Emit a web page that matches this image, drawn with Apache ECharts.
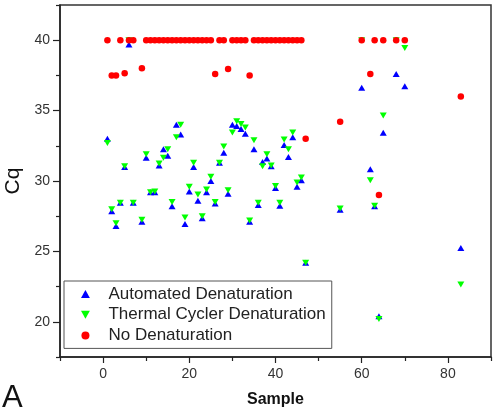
<!DOCTYPE html>
<html>
<head>
<meta charset="utf-8">
<script src="https://cdn.jsdelivr.net/npm/echarts@6/dist/echarts.min.js"></script>
<style>html,body{margin:0;padding:0;background:#fff}#c{width:493px;height:409px}</style>
</head>
<body>
<div id="c"></div>
<script>
// Automated Denaturation
var autoSamples = [1,2,3,4,5,6,7,9,10,11,12,13,14,15,16,17,18,19,20,21,22,23,24,25,26,27,28,29,30,31,32,33,34,35,36,37,38,39,40,41,42,43,44,45,46,47,55,60,62,63,64,65,68,70,83];
var autoCq = [33.0,27.85,26.8,28.45,31.0,39.7,28.45,27.1,31.65,29.2,29.2,31.1,32.25,31.8,28.2,34.0,33.3,26.95,29.25,31.0,28.6,27.35,29.2,30.0,28.4,31.3,32.0,29.1,34.0,33.9,33.7,33.35,27.1,32.25,28.3,31.35,31.6,31.05,29.5,28.25,32.55,31.7,33.1,29.6,30.05,24.2,27.95,36.63,30.83,28.2,20.4,33.43,37.6,36.73,25.25];
// Thermal Cycler Denaturation
var thermSamples = [1,2,3,4,5,6,7,9,10,11,12,13,14,15,16,17,18,19,20,21,22,23,24,25,26,27,28,29,30,31,32,33,34,35,36,37,38,39,40,41,42,43,44,45,46,47,55,60,62,63,64,65,68,70,83];
var thermCq = [32.7,28.0,27.0,28.45,31.05,40.0,28.45,27.25,31.9,29.2,29.25,31.25,31.65,32.25,28.5,33.1,34.0,27.4,29.6,31.3,29.05,27.5,29.4,30.3,28.5,31.3,32.45,29.35,33.45,34.25,34.05,33.8,27.2,32.9,28.45,31.05,31.9,31.1,29.65,28.45,32.95,32.25,33.45,29.9,30.25,24.2,28.05,40.0,30.05,28.25,20.2,34.65,40.0,39.45,22.65];
// No Denaturation
var noSamples = [1,2,3,4,5,6,7,9,10,11,12,13,14,15,16,17,18,19,20,21,22,23,24,25,26,27,28,29,30,31,32,33,34,35,36,37,38,39,40,41,42,43,44,45,46,47,55,60,62,63,64,65,68,70,83];
var noCq = [40,37.5,37.5,40,37.65,40,40,38.0,40,40,40,40,40,40,40,40,40,40,40,40,40,40,40,40,37.6,40,40,37.95,40,40,40,40,37.5,40,40,40,40,40,40,40,40,40,40,40,40,33.0,34.2,40,37.6,40,29.0,40,40,40,36.0];

var xLabelValues = [0,20,40,60,80];
var xMinorValues = [-10,10,30,50,70,90];
var yLabelValues = [20,25,30,35,40];
var yMinorValues = [17.5,22.5,27.5,32.5,37.5,42.5];
var seriesNames = ['Automated Denaturation','Thermal Cycler Denaturation','No Denaturation'];

function pairs(xs, ys){ return xs.map(function(x,i){ return [x, ys[i]]; }); }

var FONT = 'Liberation Sans, Arial, sans-serif';
var downTri = 'path://M0,0 L10,0 L5,9 Z';
var upTri = 'path://M5,0 L10,9 L0,9 Z';

var chart = echarts.init(document.getElementById('c'), null, {renderer:'canvas'});
var axisLine = {show:true, onZero:false, lineStyle:{color:'#222', width:1.5}};
chart.setOption({
  animation:false,
  backgroundColor:'#fff',
  textStyle:{fontFamily:FONT},
  grid:{left:60, right:2, top:5, bottom:52, outerBoundsMode:'none', containLabel:false, show:true, borderColor:'#333', borderWidth:1.5, backgroundColor:'transparent'},
  xAxis:[{
    type:'value', min:-10, max:90, position:'bottom',
    name:'Sample', nameLocation:'middle', nameGap:35,
    nameTextStyle:{fontFamily:FONT, fontSize:16, fontWeight:'bold', color:'#111'},
    axisLine:axisLine,
    axisTick:{show:true, length:6, customValues:xLabelValues, lineStyle:{color:'#222', width:1.2}},
    axisLabel:{customValues:xLabelValues, fontSize:14, color:'#333', margin:10, fontFamily:FONT},
    splitLine:{show:false}
  },{
    type:'value', min:-10, max:90, position:'bottom',
    axisLine:{show:false, onZero:false},
    axisTick:{show:true, length:4, customValues:xMinorValues, lineStyle:{color:'#222', width:1.2}},
    axisLabel:{show:false}, splitLine:{show:false}
  }],
  yAxis:[{
    type:'value', min:17.5, max:42.5, position:'left',
    name:'Cq', nameLocation:'middle', nameGap:21, nameRotate:90,
    nameTextStyle:{fontFamily:FONT, fontSize:21, color:'#111'},
    axisLine:axisLine,
    axisTick:{show:true, length:7, customValues:yLabelValues, lineStyle:{color:'#222', width:1.2}},
    axisLabel:{customValues:yLabelValues, fontSize:14, color:'#333', margin:10, fontFamily:FONT},
    splitLine:{show:false}
  },{
    type:'value', min:17.5, max:42.5, position:'left',
    axisLine:{show:false, onZero:false},
    axisTick:{show:true, length:4, customValues:yMinorValues, lineStyle:{color:'#222', width:1.2}},
    axisLabel:{show:false}, splitLine:{show:false}
  }],
  legend:{
    show:true, orient:'vertical', left:64, top:281,
    data:seriesNames,
    itemWidth:36, itemHeight:8, itemGap:2.7,
    padding:[4,6,4,17],
    borderColor:'#555', borderWidth:1, backgroundColor:'#fff',
    textStyle:{fontFamily:FONT, fontSize:17, color:'#222', lineHeight:18}
  },
  series:[{
    name:seriesNames[0], type:'scatter', xAxisIndex:0, yAxisIndex:0,
    symbol:upTri, symbolSize:[7,6], itemStyle:{color:'#0000ff', opacity:1},
    data:pairs(autoSamples, autoCq)
  },{
    name:seriesNames[1], type:'scatter', xAxisIndex:0, yAxisIndex:0,
    symbol:downTri, symbolSize:[7,6], itemStyle:{color:'#00ff00', opacity:1},
    data:pairs(thermSamples, thermCq)
  },{
    name:seriesNames[2], type:'scatter', xAxisIndex:0, yAxisIndex:0,
    symbol:'circle', symbolSize:6.5, itemStyle:{color:'#ff0000', opacity:1},
    data:pairs(noSamples, noCq)
  }],
  graphic:[{
    type:'text', left:2, top:383,
    style:{text:'A', fontFamily:FONT, fontSize:31, fill:'#111'}
  }]
});
</script>
</body>
</html>
